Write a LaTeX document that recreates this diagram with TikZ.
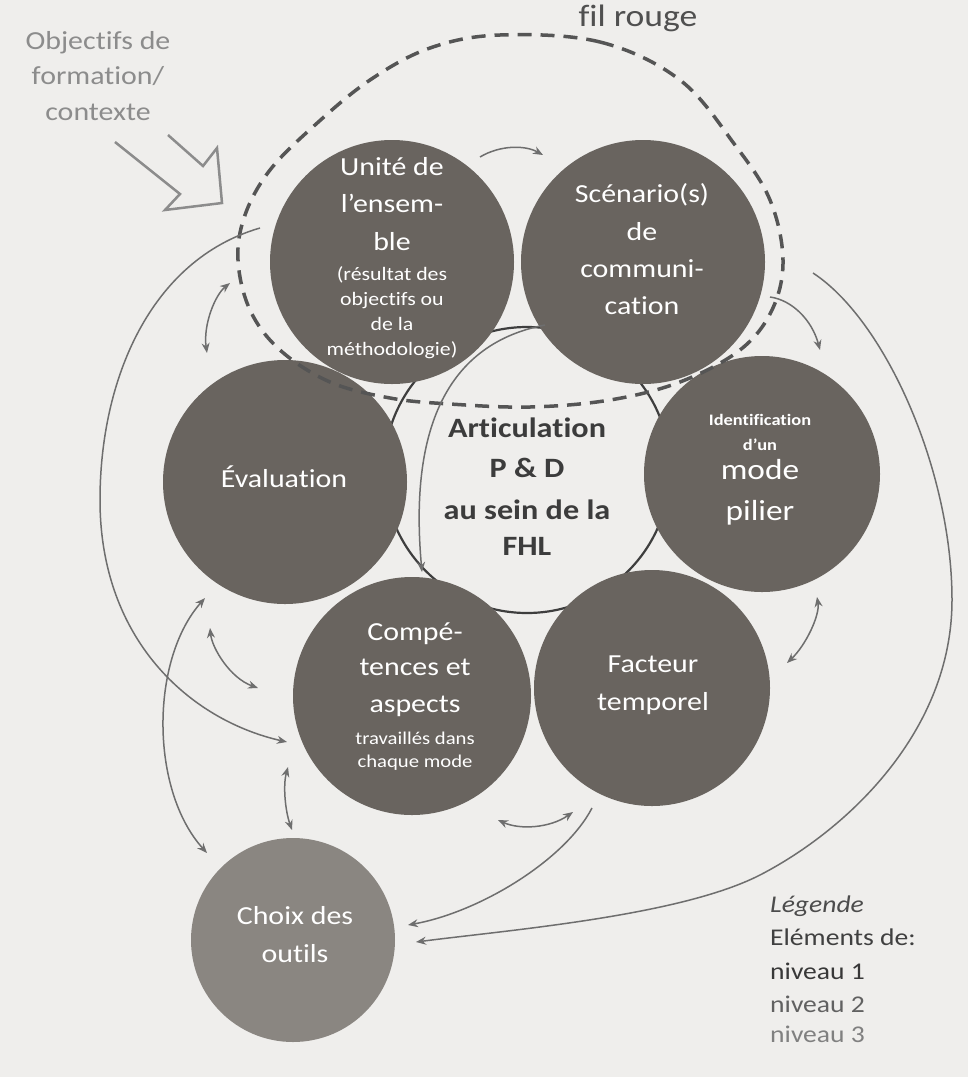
\documentclass[tikz,border=0pt]{standalone}
\usepackage{fontspec}
\setmainfont[FakeStretch=1.15, Ligatures=NoCommon]{Carlito}
\usetikzlibrary{arrows.meta,shapes.geometric}
\definecolor{paper}{HTML}{EFEEEC}
\definecolor{circdark}{HTML}{69645F}
\definecolor{circlight}{HTML}{8A8681}
\definecolor{arrowgray}{HTML}{6E6E6E}
\definecolor{artline}{HTML}{3E3E3E}
\definecolor{dashgray}{HTML}{555555}
\definecolor{objgray}{HTML}{8C8C8C}
\definecolor{darktext}{HTML}{3C3C3C}
\begin{document}
\begin{tikzpicture}[x=1pt,y=-1pt,
  circ/.style={circle, draw=none, inner sep=0pt},
  darkc/.style={circ, fill=circdark},
  lightc/.style={circ, fill=circlight},
  wtxt/.style={text=white, inner sep=0pt, text height=0.7em, text depth=0.2em},
  bigtxt/.style={wtxt, font=\fontsize{26}{30}\selectfont},
  smalltxt/.style={wtxt, font=\fontsize{19}{22}\selectfont},
  tinybold/.style={wtxt, font=\fontsize{16}{19}\selectfont\bfseries},
  arttxt/.style={text=darktext, inner sep=0pt, text height=0.7em, text depth=0.2em, font=\fontsize{28}{32}\selectfont\bfseries},
  legtxt/.style={inner sep=0pt, anchor=west, text height=0.7em, text depth=0.2em, font=\fontsize{24}{28}\selectfont},
  objtxt/.style={text=objgray, inner sep=0pt, text height=0.7em, text depth=0.2em, font=\fontsize{26}{30}\selectfont},
  arr/.style={draw=arrowgray, line width=1.5pt, -{Stealth[length=10pt,width=8pt]}},
  darr/.style={draw=arrowgray, line width=1.5pt, {Stealth[length=10pt,width=8pt]}-{Stealth[length=10pt,width=8pt]}},
  hollow/.style={draw=objgray, line width=2.5pt, line join=miter},
  filrouge/.style={draw=dashgray, line width=3.5pt, dash pattern=on 14pt off 9pt},
]
\fill[paper] (0,0) rectangle (968,1077);
\useasboundingbox (0,0) rectangle (968,1077);

% central articulation circle
\node[circle, draw=artline, line width=2.2pt, minimum size=286pt, inner sep=0pt] (art) at (527,470) {};

% circles
\node[darkc, minimum size=244pt] (u) at (392,262) {};
\node[darkc, minimum size=244pt] (s) at (643,262) {};
\node[darkc, minimum size=236pt] (id) at (762,474) {};
\node[darkc, minimum size=244pt] (ev) at (285,482) {};
\node[darkc, minimum size=238pt] (co) at (412,696) {};
\node[darkc, minimum size=236pt] (fa) at (652,688) {};
\node[lightc, minimum size=204pt] (ch) at (293,940) {};

% fil rouge dashed loop (egg shape)
\draw[filrouge] plot[smooth cycle, tension=0.6] coordinates {
  (500,35) (600,42) (680,80) (735,145) (770,200) (783,260) (772,310)
  (740,350) (680,382) (610,400) (530,407) (450,404) (390,398) (330,382)
  (280,350) (250,310) (238,260) (245,215) (270,170) (315,125) (370,80) (430,48)};

% connector end points
\coordinate (a1s) at (480,157); \coordinate (a1e) at (543,155);
\coordinate (a2s) at (770,297); \coordinate (a2e) at (820,350);
\coordinate (a3s) at (817,597); \coordinate (a3e) at (787,663);
\coordinate (a4s) at (498,820); \coordinate (a4e) at (573,812);
\coordinate (a5s) at (592,808); \coordinate (a5e) at (408,925);
\coordinate (a6s) at (813,273); \coordinate (a6e) at (416,942);
\coordinate (a7s) at (260,228); \coordinate (a7e) at (287,742);
\coordinate (a8s) at (205,598); \coordinate (a8e) at (207,853);
\coordinate (a9s) at (210,628); \coordinate (a9e) at (258,688);
\coordinate (a10s) at (230,283); \coordinate (a10e) at (207,353);
\coordinate (a11s) at (288,767); \coordinate (a11e) at (292,830);
\coordinate (a12s) at (545,325); \coordinate (a12e) at (422,572);

% connectors
\draw[arr] (a1s) .. controls (500,145) and (525,145) .. (a1e);
\draw[arr] (a2s) .. controls (792,300) and (812,320) .. (a2e);
\draw[darr] (a3s) .. controls (820,615) and (806,645) .. (a3e);
\draw[darr] (a4s) .. controls (520,830) and (550,828) .. (a4e);
\draw[arr] (a5s) .. controls (565,860) and (480,912) .. (a5e);
\draw[arr] (a6s) .. controls (885,320) and (952,470) .. (952,600)
                 .. controls (952,730) and (849,829) .. (760,875)
                 .. controls (680,916) and (509,930) .. (a6e);
\draw[arr] (a7s) .. controls (150,260) and (100,380) .. (100,500)
                 .. controls (100,640) and (190,720) .. (a7e);
\draw[darr] (a8s) .. controls (150,660) and (150,790) .. (a8e);
\draw[darr] (a9s) .. controls (212,648) and (230,678) .. (a9e);
\draw[darr] (a10s) .. controls (215,295) and (203,325) .. (a10e);
\draw[darr] (a11s) .. controls (283,785) and (285,810) .. (a11e);
\draw[arr] (a12s) .. controls (440,345) and (410,440) .. (a12e);

% hollow block arrow
\draw[hollow] (168,135) -- (203,166) -- (217,148) -- (222,203) -- (165,210) -- (180,194) -- (115,142);

% texts
\node[objtxt] (o1) at (98,47) {Objectifs de};
\node[objtxt] (o2) at (98,82) {formation/};
\node[objtxt] (o3) at (98,118) {contexte};

\node[inner sep=0pt, text=darktext!90, font=\fontsize{31}{34}\selectfont, text height=0.7em, text depth=0.2em] (filt) at (638,24) {fil rouge};

\node[bigtxt] (u1) at (392,173) {Unité de};
\node[bigtxt] (u2) at (392,210) {l’ensem-};
\node[bigtxt] (u3) at (392,248) {ble};
\node[smalltxt] (u4) at (392,278) {(résultat des};
\node[smalltxt] (u5) at (392,303) {objectifs ou};
\node[smalltxt] (u6) at (392,328) {de la};
\node[smalltxt] (u7) at (392,353) {méthodologie)};

\node[bigtxt] (s1) at (642,200) {Scénario(s)};
\node[bigtxt] (s2) at (642,238) {de};
\node[bigtxt] (s3) at (642,275) {communi-};
\node[bigtxt] (s4) at (642,312) {cation};

\node[tinybold] (i1) at (760,423) {Identification};
\node[tinybold] (i2) at (760,448) {d’un};
\node[wtxt, font=\fontsize{29}{33}\selectfont] (i3) at (760,477) {mode};
\node[wtxt, font=\fontsize{29}{33}\selectfont] (i4) at (760,518) {pilier};

\node[bigtxt] (e1) at (284,485) {Évaluation};

\node[bigtxt] (c1) at (415,638) {Compé-};
\node[bigtxt] (c2) at (415,673) {tences et};
\node[bigtxt] (c3) at (415,710) {aspects};
\node[smalltxt, font=\fontsize{18}{21}\selectfont] (c4) at (415,742) {travaillés dans};
\node[smalltxt, font=\fontsize{18}{21}\selectfont] (c5) at (415,765) {chaque mode};

\node[bigtxt] (f1) at (653,670) {Facteur};
\node[bigtxt] (f2) at (653,708) {temporel};

\node[bigtxt] (h1) at (295,922) {Choix des};
\node[bigtxt] (h2) at (295,960) {outils};

\node[arttxt] (t1) at (527,435) {Articulation};
\node[arttxt] (t2) at (527,475) {P \& D};
\node[arttxt] (t3) at (527,517) {au sein de la};
\node[arttxt] (t4) at (527,553) {FHL};

\node[legtxt, text=black!70] (l1) at (770,910) {\itshape Légende};
\node[legtxt, text=black!75] (l2) at (770,943) {Eléments de:};
\node[legtxt, text=black!78] (l3) at (770,977) {niveau 1};
\node[legtxt, text=black!62] (l4) at (770,1010) {niveau 2};
\node[legtxt, text=black!50] (l5) at (770,1040) {niveau 3};
\end{tikzpicture}
\end{document}
